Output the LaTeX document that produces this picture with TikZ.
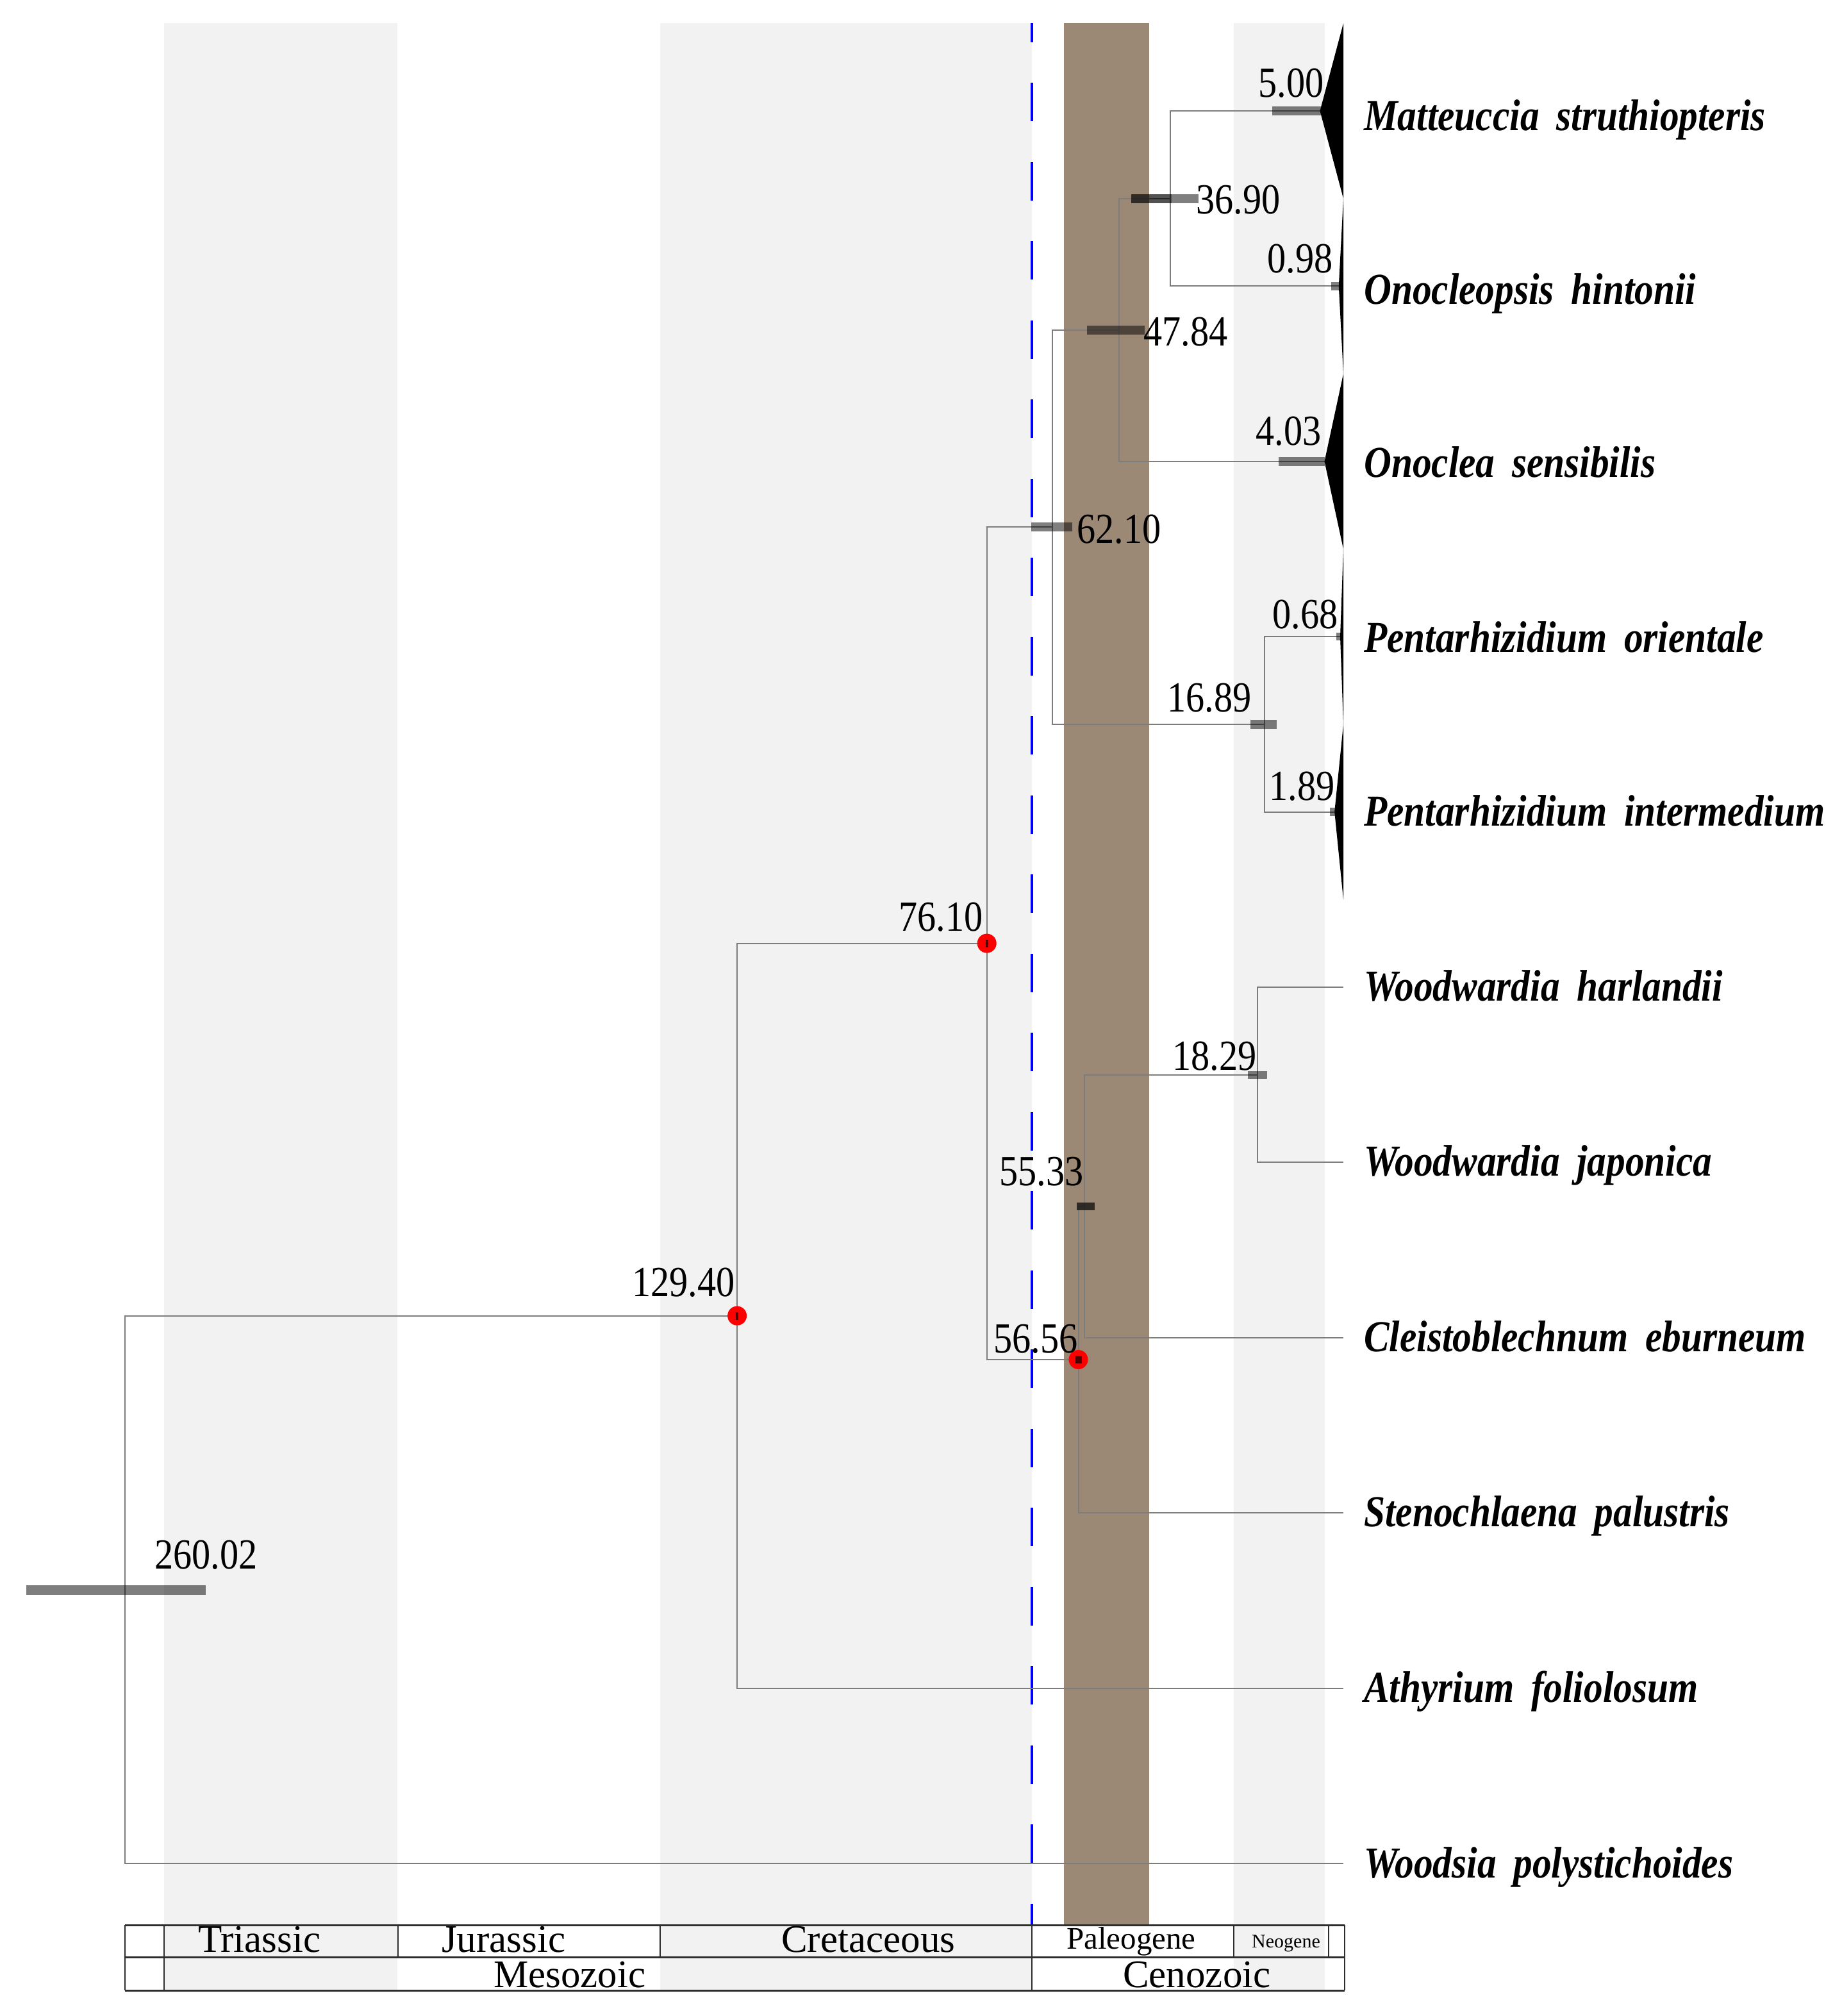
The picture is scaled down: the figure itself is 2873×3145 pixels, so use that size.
\documentclass[tikz,border=0pt]{standalone}
\usepackage{fontspec}
\setmainfont{Liberation Serif}
\newfontfamily\numfont[FakeStretch=0.87]{Liberation Serif}
\newfontfamily\taxfont[FakeStretch=0.86,WordSpace=1.8]{Liberation Serif}
\definecolor{bandgrey}{RGB}{242,242,242}
\definecolor{brownband}{RGB}{155,136,117}
\definecolor{branchgrey}{RGB}{125,125,125}
\definecolor{tablegrey}{RGB}{45,45,45}
\tikzset{
  branch/.style={draw=branchgrey, line width=2pt},
  hpd/.style={fill=black, fill opacity=0.5, draw=none},
  hpddark/.style={fill=black, fill opacity=0.68, draw=none},
  numlabel/.style={inner sep=0pt, font=\numfont\fontsize{67}{70}\selectfont},
  taxon/.style={inner sep=0pt, anchor=base west, font=\taxfont\bfseries\itshape\fontsize{69}{72}\selectfont},
  periodlabel/.style={inner sep=0pt, anchor=base west, font=\fontsize{61}{64}\selectfont},
  reddot/.style={circle, fill=red, draw=none, inner sep=0pt, minimum size=30pt},
  clade/.style={fill=black, draw=none},
  tableline/.style={draw=tablegrey, line width=3pt},
  tablesep/.style={draw=tablegrey, line width=2pt},
  kdash/.style={draw=blue, line width=4pt, dash pattern=on 60pt off 63.5pt, dash phase=30.5pt},
}
\begin{document}
\begin{tikzpicture}[x=1pt,y=-1pt]
\useasboundingbox (0,0) rectangle (2873,3145);
\fill[white] (0,0) rectangle (2873,3145);
% geological bands
\fill[bandgrey] (256,36) rectangle (620,3105);
\fill[bandgrey] (1030,36) rectangle (1610,3105);
\fill[bandgrey] (1925,36) rectangle (2067,3105);
\fill[brownband] (1660,36) rectangle (1793,3004);
\draw[kdash] (1610,36) -- (1610,3003);
% tips
\coordinate (c0) at (2059.5,173);
\coordinate (c1) at (2088.8,446.4);
\coordinate (c2) at (2066.5,719.8);
\coordinate (c3) at (2091,993.2);
\coordinate (c4) at (2082.2,1266.6);
\coordinate (t5) at (2096,1540);
\coordinate (t6) at (2096,1813.4);
\coordinate (t7) at (2096,2086.8);
\coordinate (t8) at (2096,2360.2);
\coordinate (t9) at (2096,2633.6);
\coordinate (t10) at (2096,2907);
% internal nodes
\coordinate (n3690) at (1826.3,309.7);
\coordinate (n4784) at (1746.3,514.75);
\coordinate (n1689) at (1972.5,1129.9);
\coordinate (n6210) at (1642,822.3);
\coordinate (n1829) at (1962.3,1676.7);
\coordinate (n5533) at (1691.5,1881.75);
\coordinate (n5656) at (1682.5,2121);
\coordinate (n7610) at (1539.7,1471.6);
\coordinate (n12940) at (1150.1,2052.6);
\coordinate (n26002) at (195.3,2479.8);
% branches
\foreach \p/\c in {n26002/n12940, n26002/t10, n12940/n7610, n12940/t9,
  n7610/n6210, n7610/n5656, n6210/n4784, n6210/n1689, n4784/n3690, n4784/c2,
  n3690/c0, n3690/c1, n1689/c3, n1689/c4, n5656/n5533, n5656/t8,
  n5533/n1829, n5533/t7, n1829/t5, n1829/t6}
  \draw[branch] (\p) |- (\c);
% HPD bars
\fill[hpd] (1985,166) rectangle (2062,180);
\fill[hpd] (2077,440) rectangle (2089,453);
\fill[hpd] (1995,713) rectangle (2067,727);
\fill[hpddark] (1765,303) rectangle (1828,317);
\fill[hpd] (1828,303) rectangle (1870,317);
\fill[hpd] (1696,508) rectangle (1786,522);
\fill[hpd] (1609,815) rectangle (1673,829);
\fill[hpd] (1951,1123) rectangle (1992,1137);
\fill[hpd] (2085,987) rectangle (2091,999);
\fill[hpd] (2075,1260) rectangle (2087,1273);
\fill[hpd] (1947,1671) rectangle (1977,1683);
\fill[hpddark] (1680,1876) rectangle (1708,1888);
\fill[hpd] (41,2473) rectangle (321,2488);
% red dots
\node[reddot] (d12940) at (n12940) {};
\node[reddot] (d7610) at (n7610) {};
\node[reddot] (d5656) at (n5656) {};
\fill[hpddark] (1148,2047) rectangle (1152,2059);
\fill[hpddark] (1538,1466) rectangle (1542,1478);
\fill[hpddark] (1678,2115) rectangle (1688,2127);
% collapsed clades
\fill[clade] (c0) -- (2096,36.3) -- (2096,309.7) -- cycle;
\fill[clade] (c1) -- (2096,309.7) -- (2096,583.1) -- cycle;
\fill[clade] (c2) -- (2096,583.1) -- (2096,856.5) -- cycle;
\fill[clade] (c3) -- (2096,856.5) -- (2096,1129.9) -- cycle;
\fill[clade] (c4) -- (2096,1129.9) -- (2096,1403.3) -- cycle;
% age labels
\node[numlabel, anchor=base east] (l500) at (2066,151) {5.00};
\node[numlabel, anchor=base west] (l3690) at (1866,333) {36.90};
\node[numlabel, anchor=base east] (l098) at (2080,425) {0.98};
\node[numlabel, anchor=base west] (l4784) at (1784,539) {47.84};
\node[numlabel, anchor=base east] (l403) at (2062,694) {4.03};
\node[numlabel, anchor=base west] (l6210) at (1680,847) {62.10};
\node[numlabel, anchor=base east] (l068) at (2088,980) {0.68};
\node[numlabel, anchor=base east] (l1689) at (1953,1110) {16.89};
\node[numlabel, anchor=base east] (l189) at (2083,1248) {1.89};
\node[numlabel, anchor=base east] (l1829) at (1961,1669) {18.29};
\node[numlabel, anchor=base east] (l5533) at (1691,1849) {55.33};
\node[numlabel, anchor=base east] (l5656) at (1682,2110) {56.56};
\node[numlabel, anchor=base east] (l7610) at (1534,1452) {76.10};
\node[numlabel, anchor=base east] (l12940) at (1147,2022) {129.40};
\node[numlabel, anchor=base west] (l26002) at (241,2447) {260.02};
% taxon labels
\node[taxon] (x0) at (2128,203) {Matteuccia struthiopteris};
\node[taxon] (x1) at (2128,474) {Onocleopsis hintonii};
\node[taxon] (x2) at (2128,744) {Onoclea sensibilis};
\node[taxon] (x3) at (2128,1017) {Pentarhizidium orientale};
\node[taxon] (x4) at (2128,1288) {Pentarhizidium intermedium};
\node[taxon] (x5) at (2128,1561) {Woodwardia harlandii};
\node[taxon] (x6) at (2128,1834) {Woodwardia japonica};
\node[taxon] (x7) at (2128,2108) {Cleistoblechnum eburneum};
\node[taxon] (x8) at (2128,2381) {Stenochlaena palustris};
\node[taxon] (x9) at (2128,2655) {Athyrium foliolosum};
\node[taxon] (x10) at (2128,2929) {Woodsia polystichoides};
% time scale table
\draw[tableline] (195,3003) -- (2098,3003);
\draw[tableline] (195,3053) -- (2098,3053);
\draw[tableline] (195,3105) -- (2098,3105);
\foreach \xx in {195,256,621,1030,1610,1925,2073,2098}
  \draw[tablesep] (\xx,3003) -- (\xx,3053);
\foreach \xx in {195,256,1610,2098}
  \draw[tablesep] (\xx,3053) -- (\xx,3105);
\node[periodlabel] (pTri) at (309,3045) {Triassic};
\node[periodlabel] (pJur) at (689,3045) {Jurassic};
\node[periodlabel] (pCre) at (1219,3045) {Cretaceous};
\node[periodlabel, font=\fontsize{49}{52}\selectfont] (pPal) at (1664,3040) {Paleogene};
\node[periodlabel, font=\fontsize{30}{32}\selectfont] (pNeo) at (1953,3038) {Neogene};
\node[periodlabel] (eMes) at (770,3100) {Mesozoic};
\node[periodlabel] (eCen) at (1752,3100) {Cenozoic};
\end{tikzpicture}
\end{document}
